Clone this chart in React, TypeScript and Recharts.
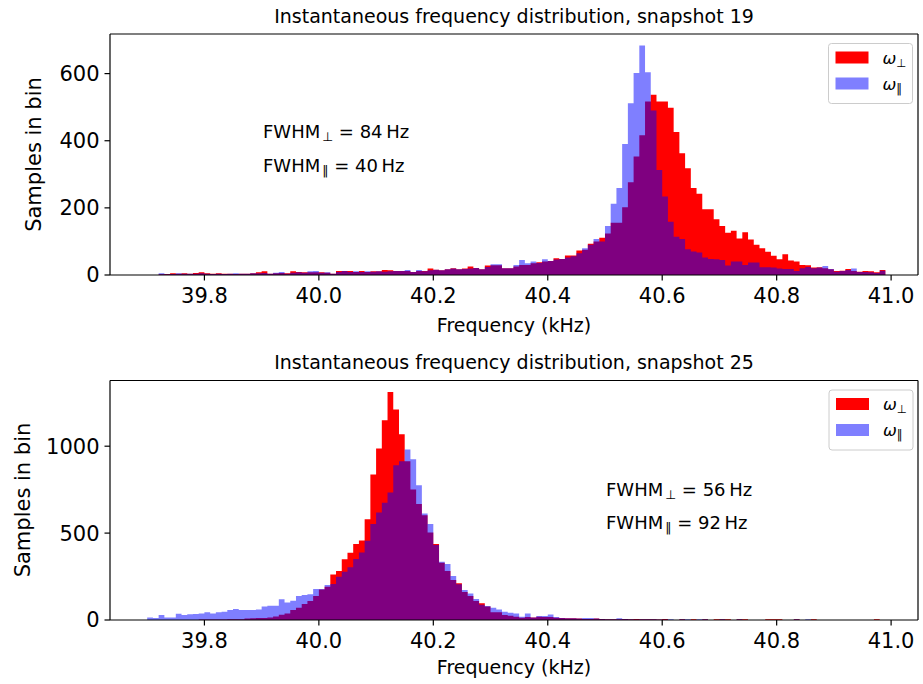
import React from 'react';
import { ComposedChart, Area, XAxis, YAxis, ReferenceLine } from 'recharts';

// Histogram bins: first bin starts at BIN_START, each bin is BIN_WIDTH kHz wide
const BIN_START = 39.7;
const BIN_WIDTH = 0.01;

const X_DOMAIN: [number, number] = [39.635, 41.047];
const X_TICKS = [39.8, 40.0, 40.2, 40.4, 40.6, 40.8, 41.0];

const TOP_Y_TICKS = [0, 200, 400, 600];
const TOP_Y_MAX = 718;
const BOTTOM_Y_TICKS = [0, 500, 1000];
const BOTTOM_Y_MAX = 1378;

// Snapshot 19 — samples per bin (39.70 ... 40.98)
const TOP_PERP = [
  0, 0, 2, 3, 5, 4, 5, 4, 6, 8,
  5, 4, 5, 4, 4, 3, 4, 4, 5, 8,
  11, 4, 5, 6, 5, 11, 9, 8, 8, 8,
  8, 7, 4, 12, 12, 12, 9, 12, 9, 11,
  11, 15, 14, 12, 12, 12, 9, 12, 12, 19,
  16, 14, 17, 20, 17, 19, 25, 21, 17, 28,
  29, 29, 20, 20, 25, 30, 30, 35, 38, 40,
  42, 50, 48, 58, 58, 73, 75, 93, 100, 111,
  124, 156, 156, 202, 276, 353, 416, 517, 537, 517,
  517, 498, 426, 363, 318, 259, 242, 196, 196, 166,
  146, 126, 132, 109, 127, 106, 90, 80, 69, 57,
  47, 62, 43, 40, 30, 29, 22, 23, 20, 17,
  12, 13, 18, 12, 10, 12, 11, 8, 15,
];
const TOP_PAR = [
  0, 0, 5, 2, 3, 5, 4, 4, 4, 5,
  4, 3, 4, 3, 4, 5, 4, 4, 5, 5,
  6, 4, 7, 9, 4, 7, 8, 7, 11, 12,
  7, 8, 4, 9, 12, 9, 11, 9, 11, 10,
  11, 10, 11, 12, 12, 15, 9, 15, 11, 14,
  16, 14, 17, 19, 17, 18, 19, 21, 17, 24,
  32, 32, 20, 20, 30, 45, 35, 40, 36, 47,
  42, 46, 48, 52, 56, 65, 80, 90, 107, 100,
  146, 212, 259, 390, 512, 602, 684, 604, 490, 313,
  234, 159, 114, 107, 77, 70, 67, 52, 48, 47,
  45, 28, 40, 40, 30, 37, 37, 23, 23, 22,
  19, 18, 18, 12, 20, 24, 20, 22, 27, 18,
  10, 12, 15, 19, 9, 9, 8, 6, 13,
];

// Snapshot 25 — samples per bin (39.70 ... 40.98)
const BOTTOM_PERP = [
  0, 0, 0, 0, 0, 0, 0, 0, 0, 3,
  3, 3, 3, 3, 4, 5, 5, 8, 10, 12,
  12, 15, 20, 30, 38, 57, 71, 92, 109, 138,
  176, 192, 262, 282, 349, 387, 437, 458, 579, 837,
  987, 1149, 1312, 1211, 1069, 914, 751, 667, 603, 504,
  437, 330, 282, 230, 211, 161, 138, 110, 96, 77,
  44, 44, 29, 25, 19, 13, 17, 14, 19, 17,
  17, 13, 11, 10, 10, 8, 6, 6, 8, 6,
  5, 5, 5, 6, 5, 6, 4, 4, 4, 3,
  6, 0, 0, 4, 0, 4, 0, 4, 0, 4,
  4, 4, 0, 4, 4, 0, 0, 0, 4, 4,
  4, 0, 0, 4, 0, 0, 4, 0, 0, 0,
  0, 0, 0, 0, 0, 0, 0, 4, 0,
];
const BOTTOM_PAR = [
  15, 11, 29, 15, 15, 36, 29, 33, 34, 38,
  44, 38, 44, 48, 57, 63, 57, 57, 57, 61,
  77, 82, 82, 119, 100, 111, 138, 144, 148, 178,
  178, 201, 207, 249, 278, 303, 351, 389, 456, 552,
  619, 674, 734, 891, 914, 981, 925, 776, 613, 552,
  431, 335, 322, 253, 205, 172, 153, 121, 88, 80,
  70, 61, 48, 42, 38, 19, 38, 15, 23, 23,
  31, 17, 11, 10, 10, 8, 11, 11, 8, 6,
  5, 5, 10, 6, 5, 3, 4, 4, 4, 3,
  3, 5, 0, 4, 5, 0, 4, 4, 0, 0,
  4, 0, 0, 4, 0, 0, 0, 0, 0, 0,
  0, 0, 0, 4, 0, 4, 0, 0, 0, 0,
  0, 0, 0, 0, 0, 0, 0, 0, 0,
];

const TITLES = [
  'Instantaneous frequency distribution, snapshot 19',
  'Instantaneous frequency distribution, snapshot 25',
];
const FWHM_PERP = [84, 56];
const FWHM_PAR = [40, 92];
const X_LABEL = 'Frequency (kHz)';
const Y_LABEL = 'Samples in bin';
const SUB_PERP = '⊥';
const SUB_PAR = '‖';

const FONT = '"DejaVu Sans", sans-serif';
const W = 923;

function buildRows(perp: number[], par: number[]) {
  const rows = perp.map((v, i) => ({
    f: Math.round((BIN_START + i * BIN_WIDTH) * 1000) / 1000,
    perp: v,
    par: par[i],
  }));
  const n = perp.length;
  rows.push({
    f: Math.round((BIN_START + n * BIN_WIDTH) * 1000) / 1000,
    perp: perp[n - 1],
    par: par[n - 1],
  });
  return rows;
}

const TOP_ROWS = buildRows(TOP_PERP, TOP_PAR);
const BOTTOM_ROWS = buildRows(BOTTOM_PERP, BOTTOM_PAR);

function HistPanel(props: {
  rows: any[];
  yMax: number;
  yTicks: number[];
  height: number;
  plotTop: number;
  plotBottom: number;
}) {
  const { rows, yMax, yTicks, height, plotTop, plotBottom } = props;
  const tickStyle = { fontSize: 21, fill: '#000', fontFamily: FONT };
  const line = { stroke: '#000', strokeWidth: 1.2 };
  return (
    <ComposedChart
      width={W}
      height={height}
      data={rows}
      margin={{ top: plotTop, right: 5, bottom: 0, left: 0 }}
    >
      <Area
        type="stepAfter"
        dataKey="perp"
        fill="#ff0000"
        fillOpacity={1}
        stroke="none"
        isAnimationActive={false}
      />
      <Area
        type="stepAfter"
        dataKey="par"
        fill="#0000ff"
        fillOpacity={0.5}
        stroke="none"
        isAnimationActive={false}
      />
      <XAxis
        dataKey="f"
        type="number"
        domain={X_DOMAIN}
        ticks={X_TICKS}
        allowDataOverflow
        tickFormatter={(v: number) => v.toFixed(1)}
        height={height - plotBottom}
        tick={tickStyle}
        tickSize={5.5}
        tickMargin={8}
        axisLine={line}
        tickLine={line}
      />
      <YAxis
        type="number"
        domain={[0, yMax]}
        ticks={yTicks}
        allowDataOverflow
        width={110}
        tick={tickStyle}
        tickSize={5.5}
        tickMargin={5}
        axisLine={line}
        tickLine={line}
      />
      <ReferenceLine y={yMax} stroke="#000" strokeWidth={1.2} ifOverflow="visible" />
      <ReferenceLine x={X_DOMAIN[1]} stroke="#000" strokeWidth={1.2} ifOverflow="visible" />
    </ComposedChart>
  );
}

function LegendBox({ x, y }: { x: number; y: number }) {
  return (
    <g>
      <rect x={x} y={y} width={84} height={60} rx={3} fill="#fff" fillOpacity={0.8} stroke="#cccccc" strokeWidth={1} />
      <rect x={x + 7} y={y + 8} width={33} height={12} fill="#ff0000" />
      <rect x={x + 7} y={y + 34} width={33} height={12} fill="#0000ff" fillOpacity={0.5} />
      <text x={x + 54} y={y + 20} fontSize={16.5} fontFamily={FONT} fill="#000">
        <tspan fontStyle="italic">ω</tspan>
        <tspan fontSize={11.5} dy={3}>{SUB_PERP}</tspan>
      </text>
      <text x={x + 54} y={y + 46} fontSize={16.5} fontFamily={FONT} fill="#000">
        <tspan fontStyle="italic">ω</tspan>
        <tspan fontSize={11.5} dy={3}>{SUB_PAR}</tspan>
      </text>
    </g>
  );
}

function Fwhm({ x, y, sub, value }: { x: number; y: number; sub: string; value: number }) {
  return (
    <text x={x} y={y} fontSize={18} fontFamily={FONT} fill="#000">
      <tspan>FWHM</tspan>
      <tspan fontSize={12.5} dx={2} dy={3}>{sub}</tspan>
      <tspan dy={-3}>{` = ${value}\u2009Hz`}</tspan>
    </text>
  );
}

export default function App() {
  const cx = (110 + 918) / 2;
  return (
    <div style={{ position: 'absolute', left: 0, top: 0, width: W, height: 684, background: '#fff' }}>
      <div style={{ position: 'absolute', left: 0, top: 0 }}>
        <HistPanel rows={TOP_ROWS} yMax={TOP_Y_MAX} yTicks={TOP_Y_TICKS} height={342} plotTop={34} plotBottom={275} />
      </div>
      <div style={{ position: 'absolute', left: 0, top: 342 }}>
        <HistPanel rows={BOTTOM_ROWS} yMax={BOTTOM_Y_MAX} yTicks={BOTTOM_Y_TICKS} height={342} plotTop={38.5} plotBottom={278} />
      </div>
      <svg
        width={W}
        height={684}
        style={{ position: 'absolute', left: 0, top: 0, pointerEvents: 'none' }}
      >
        <text x={cx} y={22.5} textAnchor="middle" fontSize={19} fontFamily={FONT} fill="#000">{TITLES[0]}</text>
        <text x={cx} y={369} textAnchor="middle" fontSize={19} fontFamily={FONT} fill="#000">{TITLES[1]}</text>
        <text x={cx} y={332} textAnchor="middle" fontSize={19} fontFamily={FONT} fill="#000">{X_LABEL}</text>
        <text x={cx} y={674} textAnchor="middle" fontSize={19} fontFamily={FONT} fill="#000">{X_LABEL}</text>
        <text
          x={41}
          y={154.5}
          textAnchor="middle"
          fontSize={21}
          fontFamily={FONT}
          fill="#000"
          transform="rotate(-90 41 154.5)"
        >
          {Y_LABEL}
        </text>
        <text
          x={30}
          y={500}
          textAnchor="middle"
          fontSize={21}
          fontFamily={FONT}
          fill="#000"
          transform="rotate(-90 30 500)"
        >
          {Y_LABEL}
        </text>
        <Fwhm x={263} y={138} sub={SUB_PERP} value={FWHM_PERP[0]} />
        <Fwhm x={263} y={172} sub={SUB_PAR} value={FWHM_PAR[0]} />
        <Fwhm x={606} y={495.5} sub={SUB_PERP} value={FWHM_PERP[1]} />
        <Fwhm x={606} y={528.5} sub={SUB_PAR} value={FWHM_PAR[1]} />
        <LegendBox x={828.5} y={43.5} />
        <LegendBox x={829} y={390} />
      </svg>
    </div>
  );
}
